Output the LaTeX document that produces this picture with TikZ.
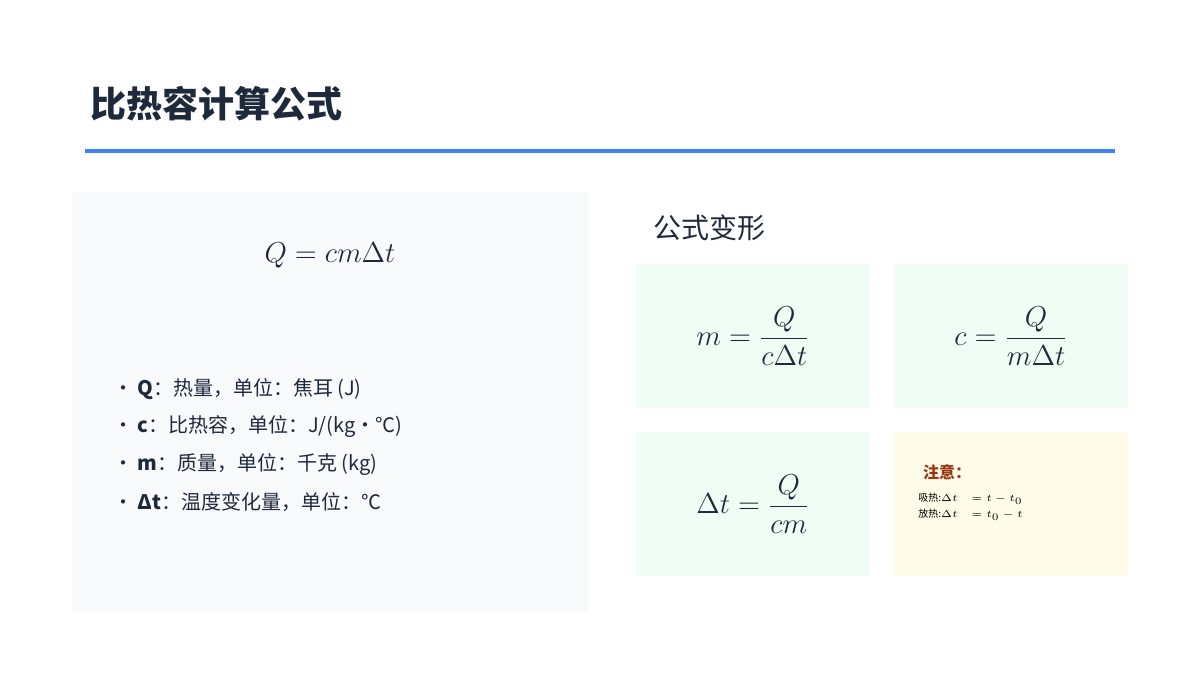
\documentclass[tikz,border=0pt]{standalone}
\usepackage{fontspec}
\setmainfont{Noto Sans CJK SC}
\newfontfamily\cjkbold[BoldFont={Noto Sans CJK SC Bold}]{Noto Sans CJK SC}
\usepackage{amsmath}
\usetikzlibrary{positioning}
\definecolor{ink}{HTML}{1E293B}
\definecolor{rule}{HTML}{3B82F6}
\definecolor{panel}{HTML}{F8FAFC}
\definecolor{mint}{HTML}{F0FDF4}
\definecolor{cream}{HTML}{FEFCE8}
\definecolor{rust}{HTML}{9A3412}
\tikzset{
  card/.style={draw=none,inner sep=0pt,anchor=north west},
  formula/.style={font=\fontsize{15}{18}\selectfont,text=ink},
  item/.style={anchor=west,font=\fontsize{10}{12}\selectfont,text=ink},
}
\begin{document}
\begin{tikzpicture}[x=0.5pt,y=-0.5pt]
\useasboundingbox (0,0) rectangle (1200,675);
\node[anchor=west,font=\fontsize{18}{22}\selectfont\bfseries,text=ink] (title) at (83,104) {比热容计算公式};
\coordinate (ruleL) at (85,151);
\coordinate (ruleR) at (1115,151);
\draw[rule,line width=2pt] (ruleL) -- (ruleR);
% main panel
\fill[panel] (72,192) rectangle (588,612);
\node[formula] (main) at (330,255) {$Q=cm\Delta t$};
\node[item] (b1) at (106,389) {• \textbf{Q}：热量，单位：焦耳 (J)};
\node[item] (b2) at (106,427) {• \textbf{c}：比热容，单位：J/(kg·℃)};
\node[item] (b3) at (106,465) {• \textbf{m}：质量，单位：千克 (kg)};
\node[item] (b4) at (106,502) {• \textbf{Δt}：温度变化量，单位：℃};
% variants
\node[anchor=west,font=\fontsize{14}{17}\selectfont,text=ink] (sub) at (646,228) {公式变形};
\fill[mint] (636,264) rectangle (870,408);
\fill[mint] (894,264) rectangle (1128,408);
\fill[mint] (636,432) rectangle (870,576);
\fill[cream] (894,432) rectangle (1128,576);
\node[formula] (fm) at (753,336) {$m=\dfrac{Q}{c\Delta t}$};
\node[formula] (fc) at (1011,336) {$c=\dfrac{Q}{m\Delta t}$};
\node[formula] (ft) at (753,504) {$\Delta t=\dfrac{Q}{cm}$};
\node[anchor=west,font=\fontsize{8}{10}\selectfont\bfseries,text=rust] (note) at (916,472) {注意：};
\node[anchor=west,font=\fontsize{5}{6}\selectfont,inner sep=0pt] (n1) at (918,499) {吸热:$\Delta t\quad=t-t_0$};
\node[anchor=west,font=\fontsize{5}{6}\selectfont,inner sep=0pt] (n2) at (918,515) {放热:$\Delta t\quad=t_0-t$};
\end{tikzpicture}
\end{document}
